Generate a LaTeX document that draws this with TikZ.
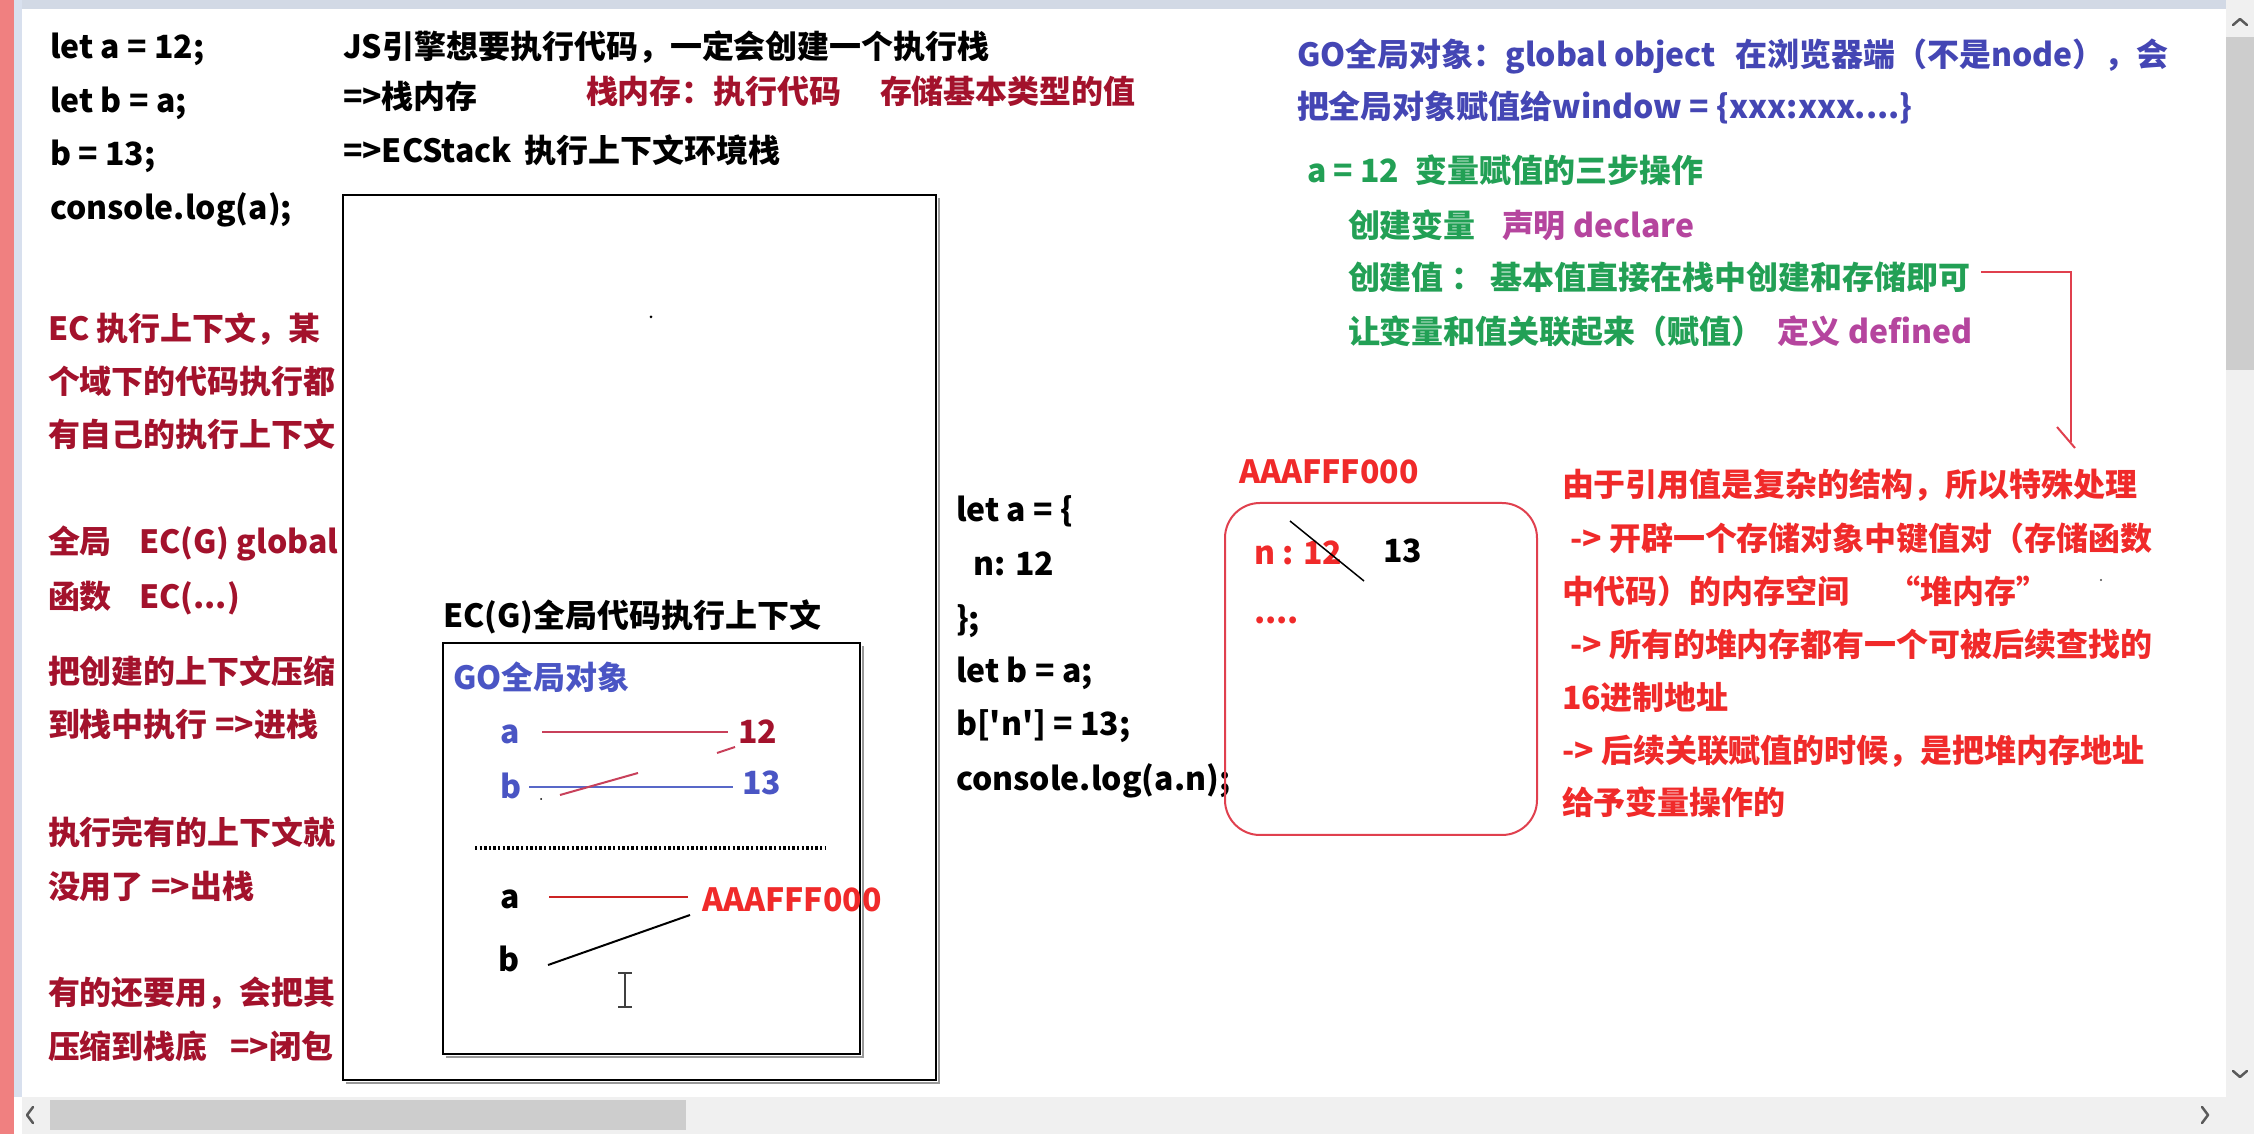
\documentclass[tikz,border=0pt]{standalone}
\usepackage{fontspec}
\setmainfont{Noto Sans CJK SC}[Ligatures=TeXOff]
\usetikzlibrary{calc}
\definecolor{dred}{HTML}{A3122C}
\definecolor{bred}{HTML}{F02A2A}
\definecolor{lred}{HTML}{C8405A}
\definecolor{hred}{HTML}{E0404E}
\definecolor{gblue}{HTML}{4A55C4}
\definecolor{tblue}{HTML}{4446B4}
\definecolor{lblue}{HTML}{5868C8}
\definecolor{ggreen}{HTML}{22A055}
\definecolor{gpurple}{HTML}{B5459E}
\definecolor{stripred}{HTML}{F08080}
\definecolor{stripblue}{HTML}{D8E0EE}
\definecolor{topband}{HTML}{D2D9E5}
\definecolor{track}{HTML}{F0F0F0}
\definecolor{thumb}{HTML}{CDCDCD}
\definecolor{arrowgray}{HTML}{5A5A5A}
\begin{document}
\begin{tikzpicture}[x=0.1mm,y=-0.1mm,
  txt/.style={anchor=west, inner sep=0pt, outer sep=0pt,
    font=\bfseries\fontsize{9.1pt}{11pt}\selectfont,
    text height=0.8em, text depth=0.12em},
  boxline/.style={draw=black, line width=0.22mm},
  shadowline/.style={draw=black!40, line width=0.25mm},
  chev/.style={draw=arrowgray, line width=0.25mm, line cap=round, line join=round}]
\useasboundingbox (0,0) rectangle (2254,1134);
% window chrome
\fill[white] (0,0) rectangle (2254,1134);
\fill[topband] (22,0) rectangle (2226,9);
\fill[stripred] (0,0) rectangle (14,1134);
\fill[stripblue] (14,0) rectangle (22,1097);
\fill[track] (2226,0) rectangle (2254,1097);
\fill[thumb] (2226,37) rectangle (2254,370);
\draw[chev] (2233,25) -- (2240,19) -- (2247,25);
\draw[chev] (2233,1071) -- (2240,1077) -- (2247,1071);
\fill[track] (22,1097) rectangle (2254,1134);
\fill[thumb] (50,1100) rectangle (686,1130);
\draw[chev] (33,1107) -- (27,1115) -- (33,1123);
\draw[chev] (2202,1107) -- (2208,1115) -- (2202,1123);

% top-left code
\node[txt] (c1) at (50,47) {let a = 12;};
\node[txt] (c2) at (50,101) {let b = a;};
\node[txt] (c3) at (50,154) {b = 13;};
\node[txt] (c4) at (50,208) {console.log(a);};

% top middle
\node[txt] (m1) at (343,47) {JS引擎想要执行代码，一定会创建一个执行栈};
\node[txt] (m2) at (343,97) {=>栈内存};
\node[txt, text=dred] (m3) at (586,92) {栈内存：执行代码};
\node[txt, text=dred] (m4) at (880,92) {存储基本类型的值};
\node[txt] (m5) at (343,151) {=>ECStack\hspace{0.4em}执行上下文环境栈};

% left notes
\node[txt, text=dred] (l1) at (48,329) {EC 执行上下文，某};
\node[txt, text=dred] (l2) at (48,382) {个域下的代码执行都};
\node[txt, text=dred] (l3) at (48,435) {有自己的执行上下文};
\node[txt, text=dred] (l4) at (48,542) {全局\hspace{0.85em}EC(G) global};
\node[txt, text=dred] (l5) at (48,597) {函数\hspace{0.85em}EC(...)};
\node[txt, text=dred] (l6) at (48,672) {把创建的上下文压缩};
\node[txt, text=dred] (l7) at (48,725) {到栈中执行 =>进栈};
\node[txt, text=dred] (l8) at (48,833) {执行完有的上下文就};
\node[txt, text=dred] (l9) at (48,887) {没用了 =>出栈};
\node[txt, text=dred] (l10) at (48,993) {有的还要用，会把其};
\node[txt, text=dred] (l11) at (48,1047) {压缩到栈底\hspace{0.7em}=>闭包};

% big stack box
\draw[shadowline] (346,1083) -- (939,1083) -- (939,198);
\draw[boxline] (343,195) rectangle (936,1080);
\fill[black] (651,317) circle (1.5);

% EC(G) box
\node[txt] (ecg) at (443,616) {EC(G)全局代码执行上下文};
\draw[shadowline] (446,1057) -- (863,1057) -- (863,646);
\draw[boxline] (443,643) rectangle (860,1054);
\node[txt, text=gblue] (go) at (453,678) {GO全局对象};
\node[txt, text=gblue] (ga) at (500,732) {a};
\node[txt, text=dred] (g12) at (738,732) {12};
\node[txt, text=gblue] (gb) at (500,787) {b};
\node[txt, text=gblue] (g13) at (742,783) {13};
\draw[lred, line width=0.2mm, shorten <=2.3mm, shorten >=1mm] (ga.east) -- (ga.east -| g12.west);
\draw[lblue, line width=0.2mm, shorten <=0.8mm, shorten >=0.9mm] (gb.east) -- (gb.east -| g13.west);
\draw[lred, line width=0.2mm] (717,753) -- (735,747);
\draw[lred, line width=0.2mm] (560,795) -- (638,773);
\fill[black] (541,799) circle (1);
\draw[black, line width=0.36mm, dash pattern=on 0.24mm off 0.22mm] (475,848) -- (825,848);
\node[txt] (ga2) at (500,897) {a};
\node[txt] (gb2) at (498,960) {b};
\node[txt, text=bred] (gaddr) at (702,900) {AAAFFF000};
\draw[bred!85!black, line width=0.2mm, shorten <=3mm, shorten >=1.4mm] (ga2.east) -- (ga2.east -| gaddr.west);
\draw[black, line width=0.2mm] ($(gb2.east)+(29,5)$) -- ($(gaddr.west)+(-12,15)$);
% I-beam cursor
\draw[black!75, line width=0.2mm] (625,974) -- (625,1006) (618,973) -- (632,973) (618,1007) -- (632,1007);

% middle code
\node[txt] (d1) at (956,510) {let a = \{};
\node[txt] (d2) at (973,564) {n: 12};
\node[txt] (d3) at (956,619) {\};};
\node[txt] (d4) at (956,671) {let b = a;};
\node[txt] (d5) at (956,724) {b['n'] = 13;};
\node[txt] (d6) at (956,779) {console.log(a.n);};

% heap
\node[txt, text=bred] (haddr) at (1239,472) {AAAFFF000};
\draw[hred, line width=0.2mm, rounded corners=3.5mm] (1225,503) rectangle (1537,835);
\node[txt, text=bred] (hn) at (1254,553) {n : 12};
\node[txt] (h13) at (1383,551) {13};
\node[txt, text=bred] (hdots) at (1254,612) {....};
\draw[black, line width=0.15mm] (1290,521) -- (1364,581);

% right explanations
\node[txt, text=bred] (r1) at (1562,485) {由于引用值是复杂的结构，所以特殊处理};
\node[txt, text=bred] (r2) at (1570,539) {-> 开辟一个存储对象中键值对（存储函数};
\node[txt, text=bred] (r3) at (1562,592) {中代码）的内存空间\hspace{1.2em}“堆内存”};
\node[txt, text=bred] (r4) at (1570,645) {-> 所有的堆内存都有一个可被后续查找的};
\node[txt, text=bred] (r5) at (1562,698) {16进制地址};
\node[txt, text=bred] (r6) at (1562,751) {-> 后续关联赋值的时候，是把堆内存地址};
\node[txt, text=bred] (r7) at (1562,803) {给予变量操作的};
\fill[black!70] (2101,580) circle (1.2);

% top right
\node[txt, text=tblue] (t1) at (1297,55) {GO全局对象：global object\hspace{0.6em}在浏览器端（不是node），会};
\node[txt, text=tblue] (t2) at (1297,107) {把全局对象赋值给window = \{xxx:xxx....\}};
\node[txt, text=ggreen] (s0) at (1307,171) {a = 12\hspace{0.5em}变量赋值的三步操作};
\node[txt, text=ggreen] (s1) at (1348,226) {创建变量};
\node[txt, text=gpurple] (s1b) at (1502,226) {声明 declare};
\node[txt, text=ggreen] (s2) at (1348,278) {创建值 ： 基本值直接在栈中创建和存储即可};
\node[txt, text=ggreen] (s3) at (1348,332) {让变量和值关联起来（赋值）};
\node[txt, text=gpurple] (s3b) at (1777,332) {定义 defined};
\draw[hred, line width=0.2mm] ($(s2.east)+(11,-6)$) -- ++(90,0) -- ++(0,170);
\draw[hred, line width=0.2mm] (2057,427) -- (2075,448);
\end{tikzpicture}
\end{document}
